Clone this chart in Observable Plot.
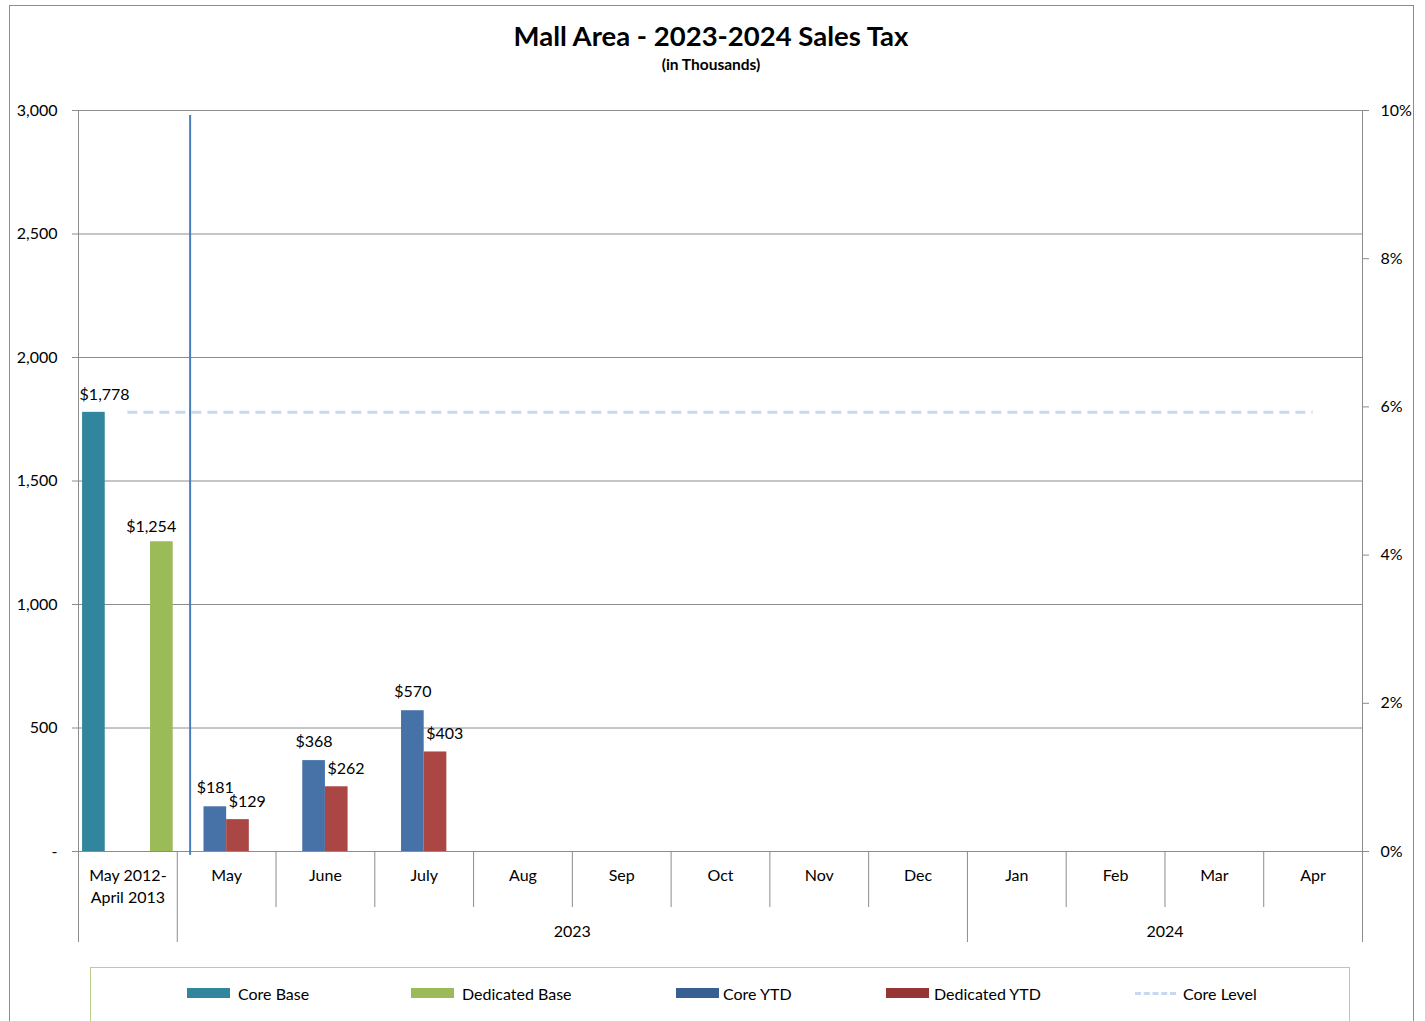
<!DOCTYPE html>
<html><head><meta charset="utf-8">
<script src="https://cdn.jsdelivr.net/npm/d3@7"></script>
<script src="https://cdn.jsdelivr.net/npm/@observablehq/plot@0.6"></script>
<style>
body{margin:0;background:#fff;font-family:Lato, "Open Sans", sans-serif;color:#000;overflow:hidden;}
#frame{position:absolute;left:9px;top:5px;width:1403px;height:1040px;border:1px solid #8c8c8c;}
#title{position:absolute;left:0;top:20px;width:1422px;text-align:center;font-weight:bold;font-size:27.5px;line-height:32px;}
#subtitle{position:absolute;left:0;top:55px;width:1422px;text-align:center;font-weight:bold;font-size:15.5px;line-height:18px;}
#chart{position:absolute;left:0;top:90px;}
#legend{position:absolute;left:90px;top:967px;width:1258px;height:80px;border:1px solid #b9cf8c;}
.item{position:absolute;top:15px;height:20px;display:flex;align-items:center;font-size:16px;}
.sw{display:inline-block;width:43px;height:10px;}
.dash{display:inline-block;width:41px;height:0;border-top:3px dashed #c6d9f1;}
</style></head>
<body>
<div id="frame"></div>
<div id="title">Mall Area - 2023-2024 Sales Tax</div>
<div id="subtitle">(in Thousands)</div>
<div id="chart"></div>
<div id="legend"></div>
<script>
// ---- data ----
const categories = ["May 2012-\nApril 2013","May","June","July","Aug","Sep","Oct","Nov","Dec","Jan","Feb","Mar","Apr"];
const seriesOrder = ["Core Base","Core YTD","Dedicated YTD","Dedicated Base"];
const seriesColors = ["#31859c","#4672a8","#aa4643","#9bbb59"];
const legendOrder = ["Core Base","Dedicated Base","Core YTD","Dedicated YTD"];
const legendColors = ["#31859c","#9bbb59","#376092","#963634"];
const coreBase = [1778];          // May 2012-April 2013
const dedicatedBase = [1254];     // May 2012-April 2013
const ytdMonths = ["May","June","July"];
const coreYTD = [181, 368, 570];
const dedicatedYTD = [129, 262, 403];
const coreLevel = [1778];
const years = [{label:"2023", from:"May", to:"Dec"},{label:"2024", from:"Jan", to:"Apr"}];
const yTicks = [0,500,1000,1500,2000,2500,3000];
const pctTicks = [0,2,4,6,8,10];
const yMax = 3000, pctMax = 10;
const separator = [{x:1.13, top:2980, bottom:-15}];

// ---- build table ----
const catIndex = c => categories.indexOf(c);
const bars = [];
coreBase.forEach(v => bars.push({cat:categories[0], series:"Core Base", value:v}));
dedicatedBase.forEach(v => bars.push({cat:categories[0], series:"Dedicated Base", value:v}));
ytdMonths.forEach((m,i) => {
  bars.push({cat:m, series:"Core YTD", value:coreYTD[i]});
  bars.push({cat:m, series:"Dedicated YTD", value:dedicatedYTD[i]});
});
const slot = d3.scaleBand(seriesOrder, [0,1]).paddingInner(0).paddingOuter(0.18);
const bx1 = d => catIndex(d.cat) + slot(d.series);
const bx2 = d => bx1(d) + slot.bandwidth();
const bxm = d => bx1(d) + slot.bandwidth()/2;
const fmt$ = d => "$" + d3.format(",")(d.value);

const N = categories.length;
const yearBounds = years.map(y => ({label:y.label, a:catIndex(y.from), b:catIndex(y.to)+1}));
const groupEdges = [0, ...yearBounds.map(y=>y.a), N].filter((v,i,a)=>a.indexOf(v)===i);
const innerEdges = d3.range(0, N+1).filter(v => !groupEdges.includes(v));
const gray = "#8c8c8c";

const plot = Plot.plot({
  width: 1425, height: 865,
  marginLeft: 78, marginRight: 63, marginTop: 20, marginBottom: 104,
  style: {fontFamily: "Lato, 'Open Sans', sans-serif", fontSize: "16px", color: "#000", background: "transparent"},
  x: {type:"linear", domain:[0, N], axis:null},
  y: {domain:[0, yMax], axis:null},
  color: {domain: seriesOrder, range: seriesColors},
  marks: [
    Plot.gridY(yTicks, {stroke: gray, strokeOpacity: 1}),
    Plot.ruleX([0, N], {stroke: gray}),
    Plot.axisY(yTicks, {anchor:"left", tickSize:6, tickPadding:15, stroke:gray, fill:"#000", label:null,
      tickFormat: d => d === 0 ? "-" : d3.format(",")(d)}),
    Plot.axisY(pctTicks.map(p => p/pctMax*yMax), {anchor:"right", tickSize:6, tickPadding:12, stroke:gray, fill:"#000", label:null,
      tickFormat: d => Math.round(d/yMax*pctMax) + "%"}),
    Plot.axisX(innerEdges, {anchor:"bottom", tickSize:56, stroke:gray, tickFormat: () => "", label:null}),
    Plot.axisX(groupEdges, {anchor:"bottom", tickSize:91, stroke:gray, tickFormat: () => "", label:null}),
    Plot.axisX(categories.map((c,i) => i + 0.5), {anchor:"bottom", tickSize:0, tickPadding:13, fill:"#000", label:null,
      lineHeight:1.42, tickFormat: d => categories[Math.floor(d)]}),
    Plot.axisX(yearBounds.map(y => (y.a + y.b)/2), {anchor:"bottom", tickSize:0, tickPadding:74, fill:"#000", label:null,
      tickFormat: d => yearBounds.find(y => (y.a+y.b)/2 === d).label}),
    Plot.rect(bars, {x1: bx1, x2: bx2, y1: 0, y2: "value", fill: "series"}),
    Plot.ruleY(coreLevel, {x1: 0.5, x2: N - 0.5, stroke: "#c6d9f1", strokeWidth: 3, strokeDasharray: "10,6"}),
    Plot.ruleX(separator, {x: "x", y1: "top", y2: "bottom", stroke: "#4a7ebb", strokeWidth: 2}),
    Plot.text(bars.filter(d => d.series === "Core Base"), {x: bx1, y: "value", text: fmt$, textAnchor: "start", dx: -3, dy: -17, lineAnchor: "middle", fill: "#000"}),
    Plot.text(bars.filter(d => d.series === "Dedicated Base"), {x: bx2, y: "value", text: fmt$, textAnchor: "end", dx: 3, dy: -15, lineAnchor: "middle", fill: "#000"}),
    Plot.text(bars.filter(d => d.series === "Core YTD"), {x: bxm, y: "value", text: fmt$, textAnchor: "middle", dy: -19, lineAnchor: "middle", fill: "#000"}),
    Plot.text(bars.filter(d => d.series === "Dedicated YTD"), {x: bx1, y: "value", text: fmt$, textAnchor: "start", dx: 2, dy: -18, lineAnchor: "middle", fill: "#000"})
  ]
});
document.getElementById("chart").appendChild(plot);

// ---- legend ----
const legend = document.getElementById("legend");
const legendX = [96, 320, 585, 795, 1044];
const legendGap = [8, 8, 4, 5, 7];
legendOrder.forEach((s,i) => {
  const el = document.createElement("div");
  el.className = "item";
  el.style.left = legendX[i] + "px";
  el.innerHTML = `<span class="sw" style="background:${legendColors[i]};margin-right:${legendGap[i]}px"></span>${s}`;
  legend.appendChild(el);
});
const cl = document.createElement("div");
cl.className = "item";
cl.style.left = legendX[4] + "px";
cl.innerHTML = `<span class="dash" style="margin-right:${legendGap[4]}px"></span>Core Level`;
legend.appendChild(cl);
</script>
</body></html>
